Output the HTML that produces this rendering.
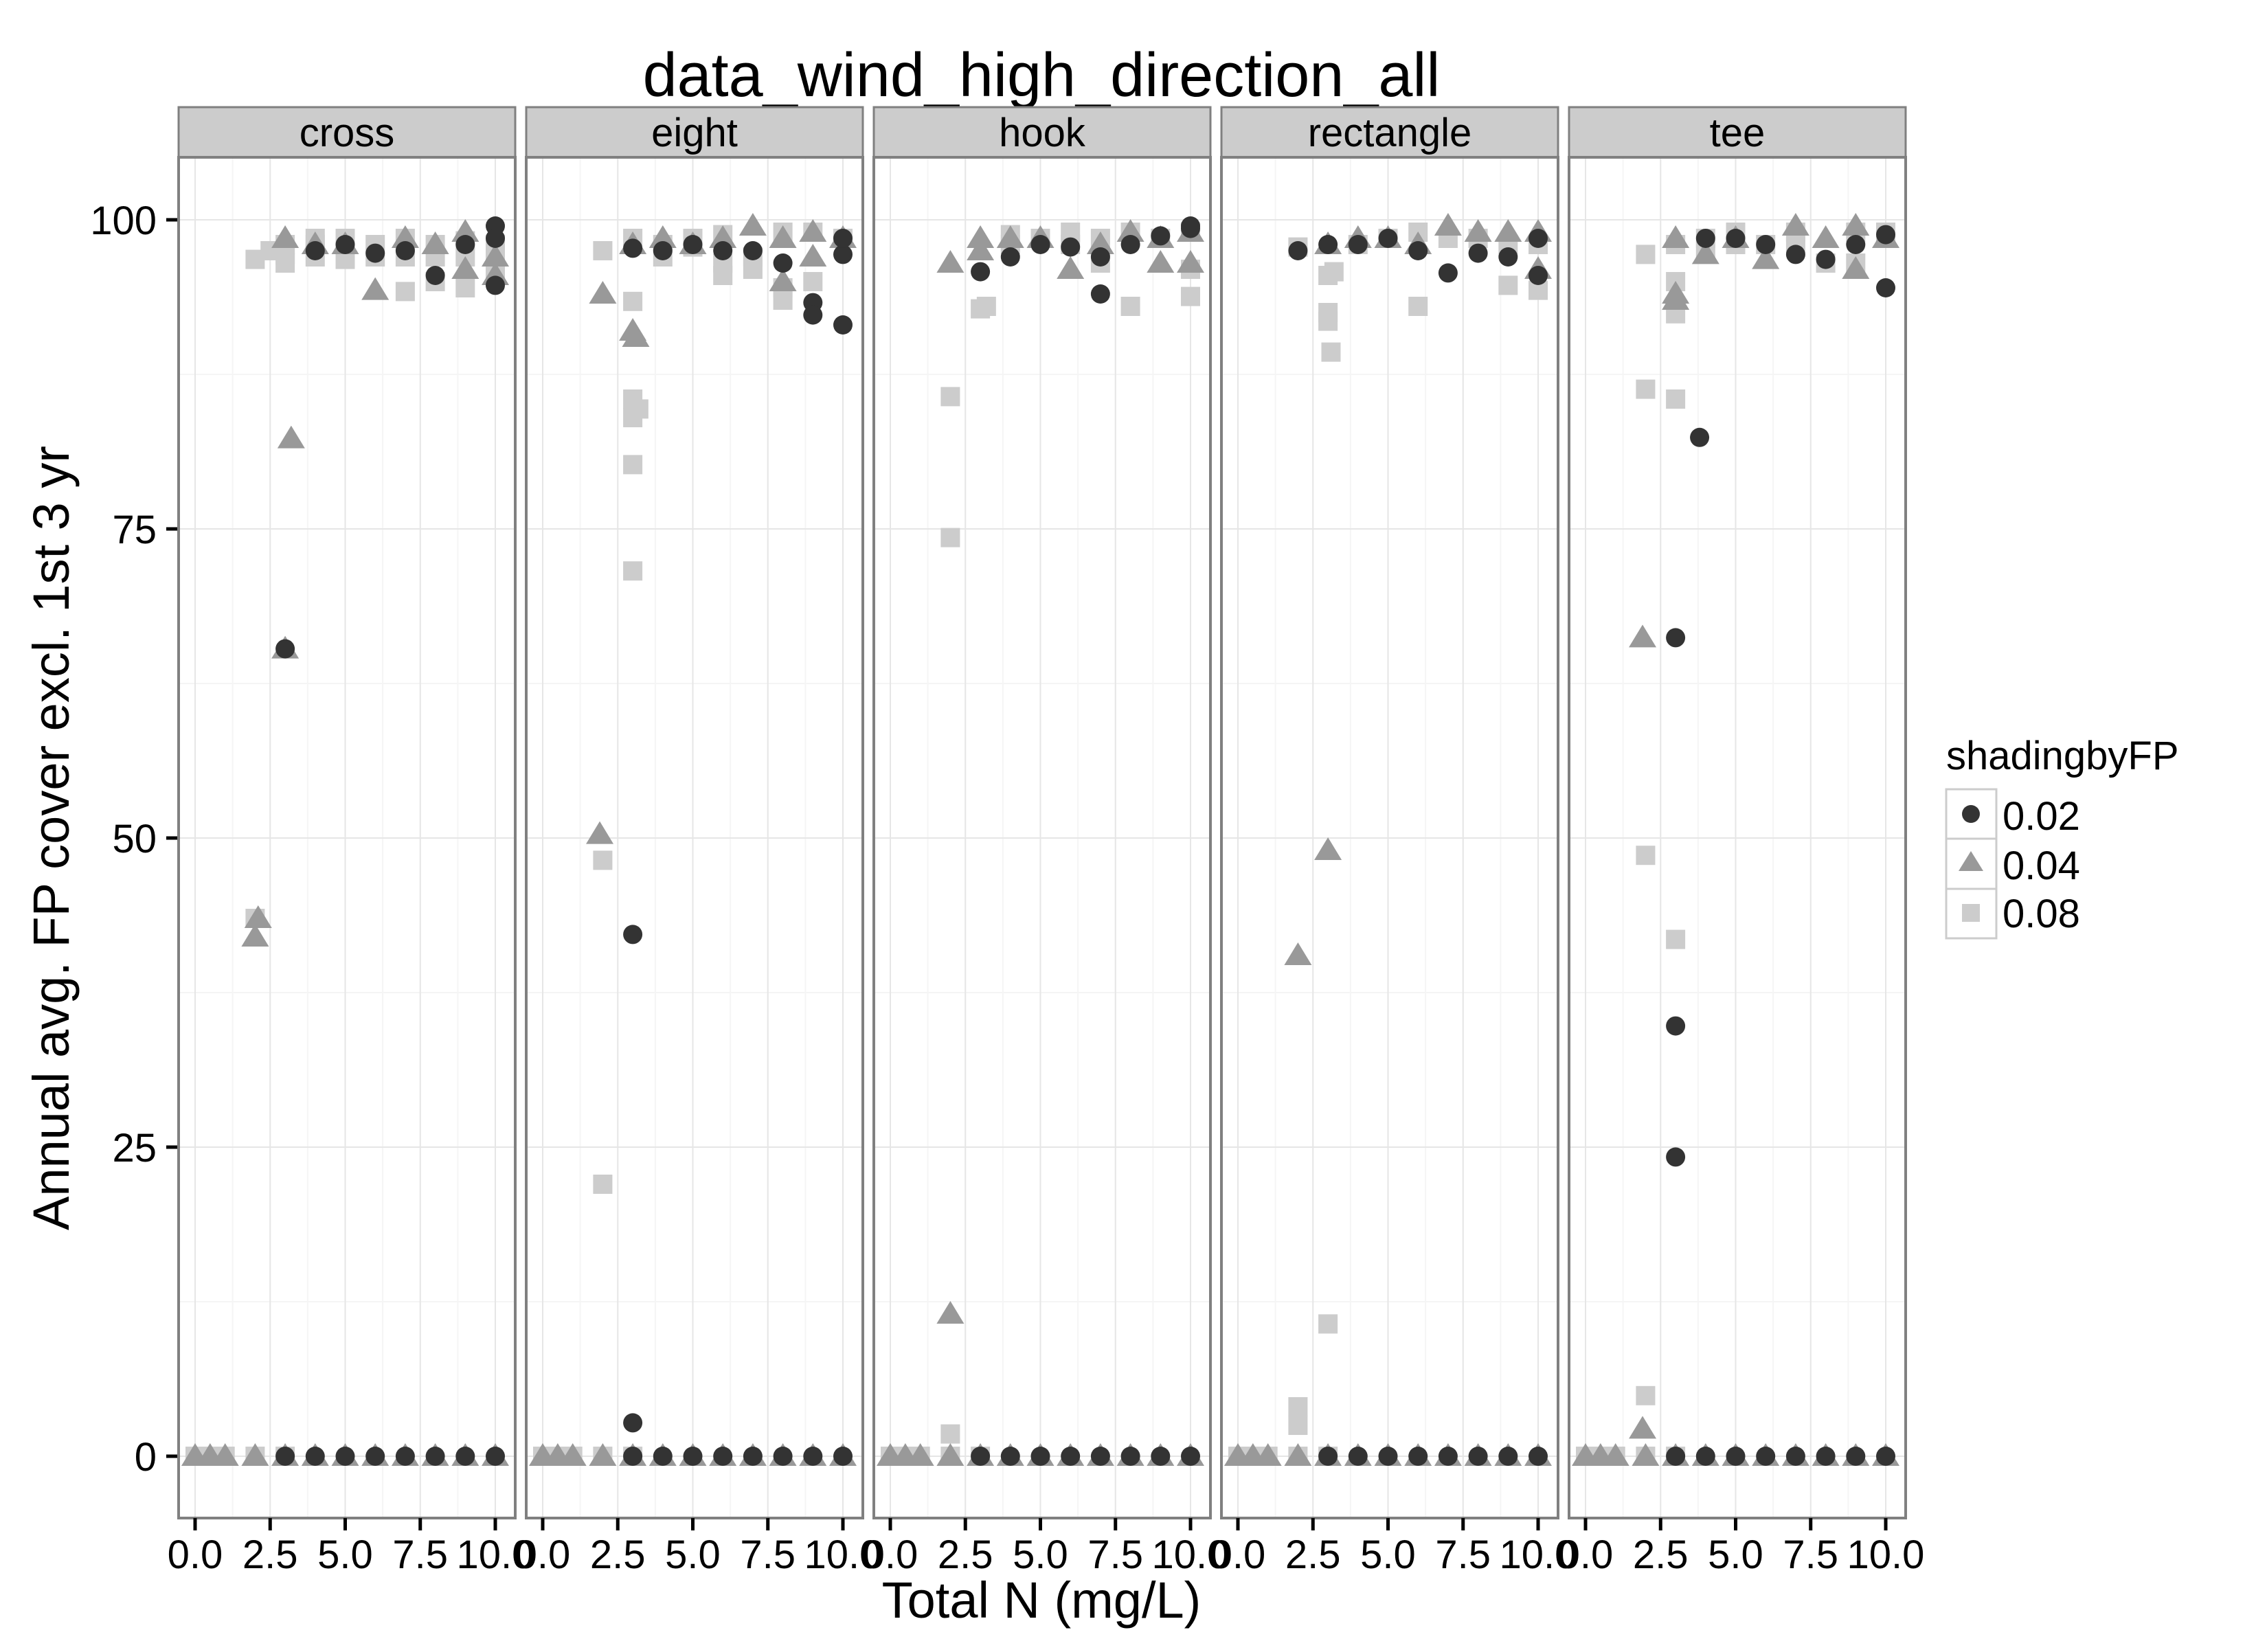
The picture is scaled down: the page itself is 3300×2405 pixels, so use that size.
<!DOCTYPE html>
<html><head><meta charset="utf-8">
<style>
html,body{margin:0;padding:0;background:#fff;}
svg text{font-family:"Liberation Sans",Arial,sans-serif;}
</style></head>
<body>
<svg id="chart" xmlns="http://www.w3.org/2000/svg" width="3300" height="2400" viewBox="0 0 3300 2400">
<rect x="0" y="0" width="3300" height="2400" fill="#fff"/>
<text x="1516" y="140" font-size="90" text-anchor="middle">data_wind_high_direction_all</text>
<text x="1516" y="2355" font-size="74" text-anchor="middle">Total N (mg/L)</text>
<text transform="translate(100,1220) rotate(-90)" font-size="74" text-anchor="middle">Annual avg. FP cover excl. 1st 3 yr</text>
<g id="panels"></g>
<g>
  <text x="2833" y="1120" font-size="58">shadingbyFP</text>
  <rect x="2833" y="1149" width="73" height="217" fill="#fff" stroke="#ccc" stroke-width="3"/>
  <line x1="2833" y1="1221" x2="2906" y2="1221" stroke="#ccc" stroke-width="3"/>
  <line x1="2833" y1="1294" x2="2906" y2="1294" stroke="#ccc" stroke-width="3"/>
  <circle cx="2869" cy="1185" r="13" fill="#333"/>
  <polygon points="2869,1239 2887,1268 2851,1268" fill="#999"/>
  <rect x="2856" y="1316" width="26" height="26" fill="#ccc"/>
  <text x="2915" y="1208" font-size="58">0.02</text>
  <text x="2915" y="1280" font-size="58">0.04</text>
  <text x="2915" y="1350" font-size="58">0.08</text>
</g>
</svg>
<script>
const facets = ["cross","eight","hook","rectangle","tee"];
const xTicks = [0,2.5,5,7.5,10];
const xTickLabels = ["0.0","2.5","5.0","7.5","10.0"];
const yTicks = [0,25,50,75,100];
const yTickLabels = ["0","25","50","75","100"];
const zeroX = [0,0.5,1,2,3,4,5,6,7,8,9,10];

// squares (0.08): [x, y]
const sq_cross = [[0,0],[0.5,0],[1,0],[2,0],[3,0],[2,96.8],[2.5,97.5],[3,96.5],[3,98],[3,97.2],[4,98.5],[4,97],[4,98],[5,98.5],[5,97.5],[5,96.8],[6,98],[6,97],[7,94.2],[7,97],[7,98.5],[8,95],[8,98],[8,97],[9,94.5],[9,97],[9,98.3],[10,96],[10,98],[10,97.2],[2,43.5]];
const sq_eight = [[0,0],[0.5,0],[1,0],[2,0],[3,0],[2,97.5],[2,48.2],[2,22],[3,85.5],[3,84],[3,80.2],[3,71.6],[3,93.4],[3.2,84.7],[3,98.5],[4,98],[4,97],[5,98.5],[5,97.8],[6,98.8],[6,96.5],[6,95.5],[7,97],[7,96],[8,93.5],[8,99],[8,94.5],[9,95],[9,99],[10,98.5]];
const sq_hook = [[0,0],[0.5,0],[1,0],[2,0],[3,0],[2,85.7],[2,74.3],[2,1.8],[3,92.8],[3.2,93],[4,98],[4,98.8],[5,98.5],[6,98],[6,99],[7,96.5],[7,98.5],[8,93],[8,99],[9,98.5],[10,93.8],[10,96],[10,99]];
const sq_rectangle = [[0,0],[0.5,0],[1,0],[2,0],[3,0],[2,97.8],[2,4],[2,2.5],[3,95.5],[3,92.5],[3,91.8],[3.1,89.3],[3,10.7],[3.2,95.8],[4,98],[5,98.5],[6,93],[6,99],[7,98.5],[8,98.5],[9,94.7],[9,98],[10,94.3],[10,98]];
const sq_tee = [[0,0],[0.5,0],[1,0],[2,0],[3,0],[2,97.2],[2,86.3],[2,48.6],[2,4.9],[3,95],[3,92.4],[3,85.5],[3,41.8],[3,98],[4,98.5],[4,97.5],[5,99],[5,98],[6,98],[7,99],[7,97.8],[8,96.5],[9,96.5],[9,99],[10,99],[10,98.5]];

// triangles (0.04)
const tr_cross = [[2,42],[2.1,43.5],[3.2,82.3],[3,65.3],[3,98.5],[4,98],[5,98],[6,94.3],[7,98.5],[8,98],[9,99],[9,96],[10,97],[10,95.5]];
const tr_eight = [[2,94],[1.9,50.3],[3,91],[3.1,90.5],[3,98],[4,98.5],[5,98],[6,98.5],[7,99.5],[8,95],[8,98.5],[9,97],[9,99],[10,98.5]];
const tr_hook = [[2,96.5],[2,11.5],[3,97.5],[3,98.5],[4,98.5],[5,98.5],[6,96],[7,98],[8,99],[9,96.5],[9,98.5],[10,96.5],[10,99]];
const tr_rectangle = [[2,40.5],[3,49],[3,98],[4,98.5],[5,98.5],[6,98],[7,99.5],[8,99],[9,99],[10,99],[10,96]];
const tr_tee = [[1.9,66.2],[1.9,2.2],[3,93.5],[3,94],[3,98.5],[4,97.2],[5,98.5],[6,96.8],[7,99.5],[8,98.5],[9,99.5],[9,96],[10,98.5]];

// circles (0.02)
const ci_cross = [[3,65.3],[4,97.5],[5,98],[6,97.3],[7,97.5],[8,95.5],[9,98],[10,99.5],[10,98.5],[10,94.7]];
const ci_eight = [[3,97.7],[3,42.2],[3,2.7],[4,97.5],[5,98],[6,97.5],[7,97.5],[8,96.5],[9,93.3],[9,92.3],[10,91.5],[10,97.2],[10,98.5]];
const ci_hook = [[3,95.8],[4,97],[5,98],[6,97.8],[7,94],[7,97],[8,98],[9,98.7],[10,99.5],[10,99.3]];
const ci_rectangle = [[2,97.5],[3,98],[4,98],[5,98.5],[6,97.5],[7,95.7],[8,97.3],[9,97],[10,95.5],[10,98.5]];
const ci_tee = [[3,66.2],[3,34.8],[3,24.2],[3.8,82.4],[4,98.5],[5,98.5],[6,98],[7,97.2],[8,96.8],[9,98],[10,94.5],[10,98.8]];

const squares = [sq_cross,sq_eight,sq_hook,sq_rectangle,sq_tee];
const triangles = [tr_cross,tr_eight,tr_hook,tr_rectangle,tr_tee];
const circles = [ci_cross,ci_eight,ci_hook,ci_rectangle,ci_tee];

const NS="http://www.w3.org/2000/svg";
const root=document.getElementById('panels');
const panelLeft0=260, panelStep=506, panelW=490, panelTop=229, panelBottom=2210, stripTop=156;
function xScale(i,v){return panelLeft0+i*panelStep+24+v*43.7;}
function yScale(v){return 2120-v*18;}
function mk(tag,attrs,parent){const e=document.createElementNS(NS,tag);for(const k in attrs)e.setAttribute(k,attrs[k]);parent.appendChild(e);return e;}
function tri(x,y){return `${x},${y-19} ${x+20},${y+14} ${x-20},${y+14}`;}

yTicks.forEach((t,j)=>{
  const y=yScale(t);
  const ln=mk('line',{x1:242,x2:260,y1:y,y2:y,stroke:'#000','stroke-width':5},root);
  
  
  const tx=mk('text',{x:228,y:y+21,'font-size':58,'text-anchor':'end'},root);
  tx.textContent=yTickLabels[j];
  
  
});

facets.forEach((f,i)=>{
  const L=panelLeft0+i*panelStep;
  const g=mk('g',{},root);
  
  
  mk('rect',{x:L,y:panelTop,width:panelW,height:panelBottom-panelTop,fill:'#fff'},g);
  for(let v=-12.5;v<=112.5;v+=25){const y=yScale(v);if(y>panelTop&&y<panelBottom)mk('line',{x1:L,x2:L+panelW,y1:y,y2:y,stroke:'#f5f5f5','stroke-width':2},g);}
  for(let v=1.25;v<=10;v+=2.5){const x=xScale(i,v);mk('line',{x1:x,x2:x,y1:panelTop,y2:panelBottom,stroke:'#f5f5f5','stroke-width':2},g);}
  yTicks.forEach(t=>{const y=yScale(t);mk('line',{x1:L,x2:L+panelW,y1:y,y2:y,stroke:'#e6e6e6','stroke-width':2},g);});
  xTicks.forEach(t=>{const x=xScale(i,t);mk('line',{x1:x,x2:x,y1:panelTop,y2:panelBottom,stroke:'#e6e6e6','stroke-width':2},g);});
  const st=mk('rect',{x:L,y:stripTop,width:panelW,height:panelTop-stripTop,fill:'#cccccc',stroke:'#808080','stroke-width':3},g);
  
  
  const sl=mk('text',{x:L+panelW/2,y:213,'font-size':58,'text-anchor':'middle'},g);
  sl.textContent=f;
  
  
  const pts=mk('g',{},g);
  squares[i].forEach(p=>{
    const x=xScale(i,p[0]),y=yScale(p[1]);
    const r=mk('rect',{x:x-14,y:y-14,width:28,height:28,fill:'#cccccc'},pts);
    
    
  });
  zeroX.forEach(v=>{
    const t=mk('polygon',{points:tri(xScale(i,v),yScale(0)),fill:'#999999'},pts);
    
    
  });
  triangles[i].forEach(p=>{
    const t=mk('polygon',{points:tri(xScale(i,p[0]),yScale(p[1])),fill:'#999999'},pts);
    
    
  });
  zeroX.filter(v=>v>=3).forEach(v=>{
    const c=mk('circle',{cx:xScale(i,v),cy:yScale(0),r:14,fill:'#333333'},pts);
    
    
  });
  circles[i].forEach(p=>{
    const c=mk('circle',{cx:xScale(i,p[0]),cy:yScale(p[1]),r:14,fill:'#333333'},pts);
    
    
  });
  mk('rect',{x:L,y:panelTop,width:panelW,height:panelBottom-panelTop,fill:'none',stroke:'#808080','stroke-width':4},g);
  xTicks.forEach((t,j)=>{
    const x=xScale(i,t);
    const ln=mk('line',{x1:x,x2:x,y1:panelBottom,y2:2228,stroke:'#000','stroke-width':5},g);
    
    
    const tx=mk('text',{x:x,y:2283,'font-size':58,'text-anchor':'middle'},g);
    tx.textContent=xTickLabels[j];
    
    
  });
});
</script>
</body></html>
